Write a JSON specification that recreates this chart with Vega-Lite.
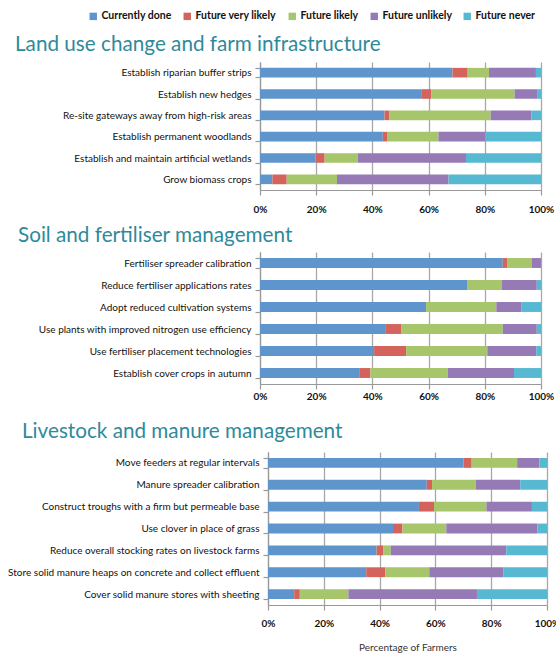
{
  "$schema": "https://vega.github.io/schema/vega-lite/v6.json",
  "background": "white",
  "padding": {"left": 7, "top": 11, "right": 0, "bottom": 4},
  "spacing": 11,
  "columns": 1,
  "align": "none",
  "datasets": {
    "cats": [
      {"c": "Currently done", "k": 1},
      {"c": "Future very likely", "k": 2},
      {"c": "Future likely", "k": 3},
      {"c": "Future unlikely", "k": 4},
      {"c": "Future never", "k": 5}
    ],
    "rows": [
      {"g": 1, "r": 1, "p": "Establish riparian buffer strips", "Currently done": 68.5, "Future very likely": 5.4, "Future likely": 7.6, "Future unlikely": 16.7, "Future never": 1.8},
      {"g": 1, "r": 2, "p": "Establish new hedges", "Currently done": 57.6, "Future very likely": 3.3, "Future likely": 29.7, "Future unlikely": 8.0, "Future never": 1.4},
      {"g": 1, "r": 3, "p": "Re-site gateways away from high-risk areas", "Currently done": 44.3, "Future very likely": 1.8, "Future likely": 36.0, "Future unlikely": 14.5, "Future never": 3.4},
      {"g": 1, "r": 4, "p": "Establish permanent woodlands", "Currently done": 43.7, "Future very likely": 1.5, "Future likely": 18.3, "Future unlikely": 16.7, "Future never": 19.8},
      {"g": 1, "r": 5, "p": "Establish and maintain artificial wetlands", "Currently done": 19.7, "Future very likely": 3.3, "Future likely": 11.8, "Future unlikely": 38.5, "Future never": 26.7},
      {"g": 1, "r": 6, "p": "Grow biomass crops", "Currently done": 4.4, "Future very likely": 5.1, "Future likely": 17.9, "Future unlikely": 39.7, "Future never": 32.9},
      {"g": 2, "r": 1, "p": "Fertiliser spreader calibration", "Currently done": 86.4, "Future very likely": 1.5, "Future likely": 8.9, "Future unlikely": 3.2, "Future never": 0},
      {"g": 2, "r": 2, "p": "Reduce  fertiliser applications rates", "Currently done": 73.9, "Future very likely": 0, "Future likely": 12.2, "Future unlikely": 12.4, "Future never": 1.5},
      {"g": 2, "r": 3, "p": "Adopt reduced cultivation systems", "Currently done": 59.1, "Future very likely": 0, "Future likely": 25.0, "Future unlikely": 9.0, "Future never": 6.9},
      {"g": 2, "r": 4, "p": "Use plants with improved nitrogen use efficiency", "Currently done": 44.8, "Future very likely": 5.4, "Future likely": 36.2, "Future unlikely": 12.1, "Future never": 1.5},
      {"g": 2, "r": 5, "p": "Use fertiliser placement technologies", "Currently done": 40.6, "Future very likely": 11.4, "Future likely": 28.9, "Future unlikely": 17.4, "Future never": 1.7},
      {"g": 2, "r": 6, "p": "Establish cover crops in  autumn", "Currently done": 35.3, "Future very likely": 4.0, "Future likely": 27.5, "Future unlikely": 23.6, "Future never": 9.6},
      {"g": 3, "r": 1, "p": "Move feeders at regular intervals", "Currently done": 70.1, "Future very likely": 2.9, "Future likely": 16.3, "Future unlikely": 8.0, "Future never": 2.7},
      {"g": 3, "r": 2, "p": "Manure spreader calibration", "Currently done": 56.9, "Future very likely": 1.9, "Future likely": 15.7, "Future unlikely": 15.9, "Future never": 9.6},
      {"g": 3, "r": 3, "p": "Construct troughs with a firm but permeable base", "Currently done": 54.1, "Future very likely": 5.4, "Future likely": 18.8, "Future unlikely": 16.3, "Future never": 5.4},
      {"g": 3, "r": 4, "p": "Use clover in place of grass", "Currently done": 44.8, "Future very likely": 3.4, "Future likely": 15.7, "Future unlikely": 32.7, "Future never": 3.4},
      {"g": 3, "r": 5, "p": "Reduce overall stocking rates on livestock farms", "Currently done": 38.9, "Future very likely": 2.5, "Future likely": 2.6, "Future unlikely": 41.4, "Future never": 14.6},
      {"g": 3, "r": 6, "p": "Store solid manure heaps on concrete and collect effluent", "Currently done": 35.2, "Future very likely": 6.8, "Future likely": 15.8, "Future unlikely": 26.5, "Future never": 15.7},
      {"g": 3, "r": 7, "p": "Cover solid manure stores with sheeting", "Currently done": 9.4, "Future very likely": 2.0, "Future likely": 17.4, "Future unlikely": 46.1, "Future never": 25.1}
    ]
  },
  "data": {"name": "rows"},
  "transform": [
    {"fold": ["Currently done", "Future very likely", "Future likely", "Future unlikely", "Future never"], "as": ["c", "v"]},
    {"lookup": "c", "from": {"data": {"name": "cats"}, "key": "c", "fields": ["k"]}}
  ],
  "config": {
    "font": "Lato",
    "view": {"stroke": null},
    "title": {"font": "Lato", "fontSize": 20.7, "fontWeight": "normal", "color": "#2E8A9A", "anchor": "start", "frame": "group"},
    "axisY": {"labelFont": "Lato", "labelFontSize": 10, "labelColor": "#111", "domainColor": "#999", "domainWidth": 1.2, "tickColor": "#999", "tickWidth": 1.2, "tickSize": 5, "tickBand": "extent", "labelPadding": 4, "title": null, "grid": false, "labelLimit": 400},
    "axisX": {"labelFont": "Lato", "labelFontSize": 10, "labelFontWeight": "bold", "labelColor": "#111", "domainColor": "#999", "domainWidth": 1.2, "tickColor": "#999", "tickWidth": 1.2, "tickSize": 5, "gridColor": "#A8A8A8", "gridWidth": 1.3, "labelPadding": 9, "labelFlush": false},
    "legend": {"orient": "none", "direction": "horizontal", "legendX": -172, "legendY": -51, "symbolType": "square", "symbolSize": 55, "symbolStrokeWidth": 0, "labelFont": "Lato", "labelFontSize": 10.5, "labelFontWeight": "bold", "labelColor": "#111", "title": null, "columnPadding": 10, "labelOffset": 3}
  },
  "concat": [
    {
      "title": {"text": "Land use change and farm infrastructure", "dx": -245, "offset": 1},
      "width": 281, "height": 128,
      "transform": [{"filter": "datum.g == 1"}],
      "mark": {"type": "bar"},
      "encoding": {
        "y": {"field": "p", "type": "nominal", "sort": {"field": "r", "op": "min"}, "scale": {"paddingInner": 0.55, "paddingOuter": 0.275}},
        "x": {"field": "v", "type": "quantitative", "stack": "normalize", "title": null, "axis": {"grid": true, "values": [0, 0.2, 0.4, 0.6, 0.8, 1], "format": ".0%"}},
        "color": {"field": "c", "type": "nominal", "scale": {"domain": ["Currently done", "Future very likely", "Future likely", "Future unlikely", "Future never"], "range": ["#5F95CD", "#D4635C", "#A7C56B", "#967AB5", "#57B9D1"]}, "legend": {"title": null}},
        "order": {"field": "k"}
      }
    },
    {
      "title": {"text": "Soil and fertiliser management", "dx": -242, "offset": 0},
      "width": 281, "height": 132,
      "transform": [{"filter": "datum.g == 2"}],
      "mark": {"type": "bar"},
      "encoding": {
        "y": {"field": "p", "type": "nominal", "sort": {"field": "r", "op": "min"}, "scale": {"paddingInner": 0.55, "paddingOuter": 0.275}},
        "x": {"field": "v", "type": "quantitative", "stack": "normalize", "title": null, "axis": {"grid": true, "values": [0, 0.2, 0.4, 0.6, 0.8, 1], "format": ".0%", "labelPadding": 2, "minExtent": 26}},
        "color": {"field": "c", "type": "nominal", "scale": {"domain": ["Currently done", "Future very likely", "Future likely", "Future unlikely", "Future never"], "range": ["#5F95CD", "#D4635C", "#A7C56B", "#967AB5", "#57B9D1"]}, "legend": {"title": null}},
        "order": {"field": "k"}
      }
    },
    {
      "title": {"text": "Livestock and manure management", "dx": -238, "offset": 4},
      "width": 287, "height": 153,
      "transform": [{"filter": "datum.g == 3"}],
      "mark": {"type": "bar"},
      "encoding": {
        "y": {"field": "p", "type": "nominal", "sort": {"field": "r", "op": "min"}, "scale": {"paddingInner": 0.55, "paddingOuter": 0.275}, "axis": {"offset": -8}},
        "x": {"field": "v", "type": "quantitative", "stack": "normalize", "title": "Percentage of Farmers", "scale": {"range": [8, 287]}, "axis": {"grid": true, "values": [0, 0.2, 0.4, 0.6, 0.8, 1], "format": ".0%", "labelPadding": 8, "titleFont": "Lato", "titleFontSize": 10, "titleFontWeight": "normal", "titleColor": "#333", "titlePadding": 14}},
        "color": {"field": "c", "type": "nominal", "scale": {"domain": ["Currently done", "Future very likely", "Future likely", "Future unlikely", "Future never"], "range": ["#5F95CD", "#D4635C", "#A7C56B", "#967AB5", "#57B9D1"]}, "legend": {"title": null}},
        "order": {"field": "k"}
      }
    }
  ]
}
